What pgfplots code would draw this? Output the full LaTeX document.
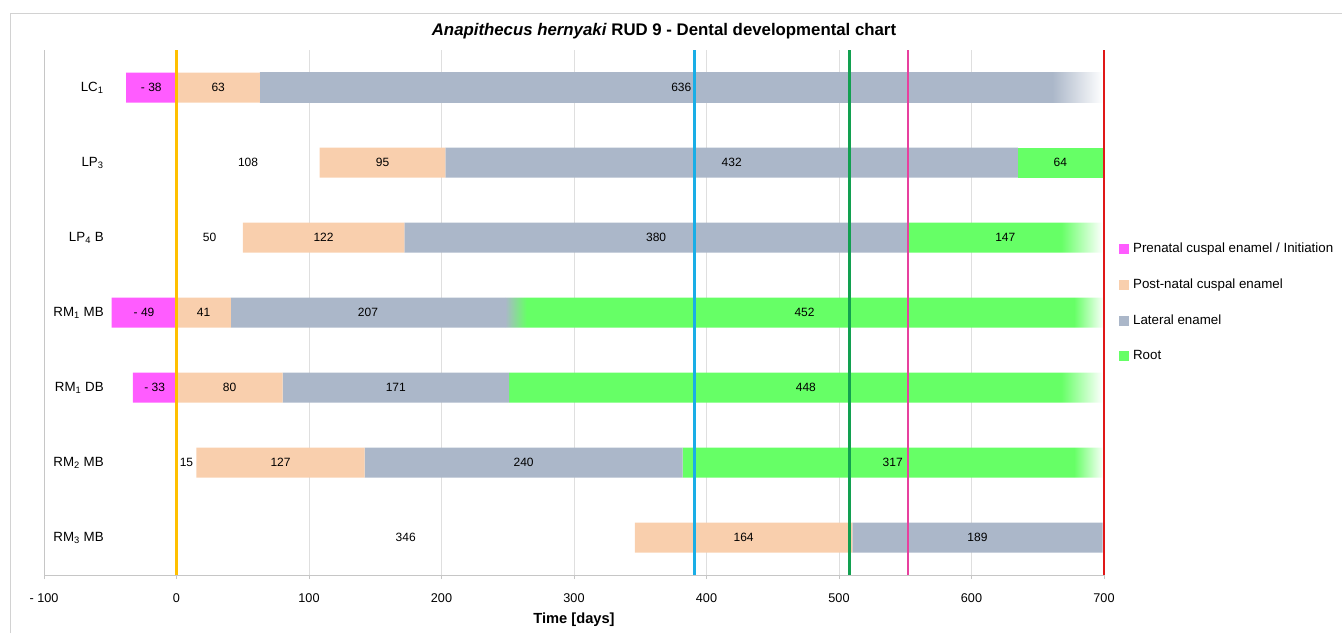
\documentclass[border=0pt]{standalone}
\usepackage{fontspec}
\setmainfont{Liberation Sans}
\usepackage{pgfplots}
\pgfplotsset{compat=1.18}

\definecolor{prenat}{HTML}{FF5CFF}
\definecolor{postnat}{HTML}{F9CFAD}
\definecolor{lateral}{HTML}{ABB7C9}
\definecolor{root}{HTML}{66FF66}
\definecolor{lgold}{HTML}{FFC000}
\definecolor{lblue}{HTML}{1AAEE6}
\definecolor{lgreen}{HTML}{12A050}
\definecolor{lpink}{HTML}{E8409F}
\definecolor{lred}{HTML}{E01818}

% fading ends of the bars (path spans 25bp..75bp)
\pgfdeclarehorizontalshading{latfade}{100bp}{color(0bp)=(lateral); color(72bp)=(lateral); color(75bp)=(white); color(100bp)=(white)}
\pgfdeclarehorizontalshading{rootfade}{100bp}{color(0bp)=(root); color(71.5bp)=(root); color(75bp)=(white); color(100bp)=(white)}
\pgfdeclarehorizontalshading{rootblend}{100bp}{color(0bp)=(lateral); color(25bp)=(lateral); color(26.8bp)=(root); color(72.5bp)=(root); color(75bp)=(white); color(100bp)=(white)}

\pgfplotsset{
  commonaxis/.style={
    at={(33pt,43.5pt)}, anchor=south west,
    scale only axis, width=795pt, height=393.75pt,
    xmin=-100, xmax=700, ymin=0.5, ymax=7.5, y dir=reverse,
  },
  sq/.style={legend image code/.code={\fill[##1] (0pt,-3.75pt) rectangle (7.5pt,3.75pt);}},
}

\begin{document}
\begin{tikzpicture}
\path[use as bounding box] (0,0) rectangle (1006.5pt,474.75pt);
\draw[gray!35, line width=0.75pt] (7.5pt,0) -- (7.5pt,464.25pt) -- (1006.5pt,464.25pt);
\node[font=\fontsize{12.6}{14}\selectfont\bfseries] at (498pt,451.5pt)
  {\textit{Anapithecus hernyaki} RUD 9 - Dental developmental chart};

% bars
\begin{axis}[
  commonaxis, name=plot,
  xbar stacked, stack negative=on previous, bar width=22.5pt,
  xtick={-100,0,...,700},
  xticklabels={- 100,0,100,200,300,400,500,600,700},
  ytick={1,...,7},
  yticklabels={LC\textsubscript{1}, LP\textsubscript{3}, LP\textsubscript{4} B,
    RM\textsubscript{1} MB, RM\textsubscript{1} DB, RM\textsubscript{2} MB, RM\textsubscript{3} MB},
  axis x line*=bottom, axis y line*=left,
  axis line style={gray!45, line width=0.75pt},
  xmajorgrids, grid style={gray!25, line width=0.75pt},
  xtick style={gray!45, line width=0.75pt}, tick align=outside, major tick length=3pt,
  ytick style={draw=none},
  xticklabel style={font=\fontsize{9.5}{11}\selectfont, yshift=-7.5pt},
  yticklabel style={font=\fontsize{10}{12}\selectfont, anchor=east, inner sep=0pt, xshift=48pt},
  xlabel={Time [days]},
  xlabel style={font=\fontsize{11}{13}\selectfont\bfseries, at={(rel axis cs:0.5,0)}, anchor=center, yshift=-33.75pt},
  legend cell align=left,
  legend style={at={(1.014,0.636)}, anchor=north west, draw=none, fill=none, inner sep=0pt,
    font=\fontsize{10}{12}\selectfont, row sep=14.75pt,
    /tikz/every odd column/.append style={column sep=1.5pt},
    nodes={text height=7.2pt, text depth=1.8pt, inner sep=1.5pt}},
]
% invisible offset (start of each row)
\addplot[draw=none, fill=none, forget plot] coordinates {
  (-38,1) (108,2) (50,3) (-49,4) (-33,5) (15,6) (346,7)};
\addplot[draw=none, fill=prenat, sq] coordinates {
  (38,1) (0,2) (0,3) (49,4) (33,5) (0,6) (0,7)};
\addplot[draw=none, fill=postnat, sq] coordinates {
  (63,1) (95,2) (122,3) (41,4) (80,5) (127,6) (164,7)};
\addplot[draw=none, fill=lateral, sq] coordinates {
  (0,1) (432,2) (380,3) (207,4) (171,5) (240,6) (189,7)};
\addplot[draw=none, shading=latfade, forget plot] coordinates {
  (636,1) (0,2) (0,3) (0,4) (0,5) (0,6) (0,7)};
\addplot[draw=none, fill=root, sq] coordinates {
  (0,1) (64,2) (0,3) (0,4) (0,5) (0,6) (0,7)};
\addplot[draw=none, shading=rootfade, forget plot] coordinates {
  (0,1) (0,2) (147,3) (0,4) (448,5) (0,6) (0,7)};
\addplot[draw=none, shading=rootblend, forget plot] coordinates {
  (0,1) (0,2) (0,3) (452,4) (0,5) (317,6) (0,7)};
\legend{Prenatal cuspal enamel / Initiation, Post-natal cuspal enamel, Lateral enamel, Root}
\end{axis}

% reference lines and segment labels
\begin{axis}[commonaxis, hide axis, clip=false]
\addplot[lgold, line width=2pt] coordinates {(0,0.5) (0,7.5)};
\addplot[lblue, line width=2pt] coordinates {(391,0.5) (391,7.5)};
\addplot[lgreen, line width=2pt] coordinates {(508,0.5) (508,7.5)};
\addplot[lpink, line width=2pt] coordinates {(552,0.5) (552,7.5)};
\addplot[lred, line width=2pt] coordinates {(700,0.5) (700,7.5)};
\addplot[draw=none, mark=none,
  nodes near coords, point meta=explicit symbolic,
  every node near coord/.append style={anchor=center, text=black, font=\fontsize{9}{10}\selectfont}]
  table[col sep=comma, meta=lab] {
x,y,lab
-19,1,- 38
31.5,1,63
381,1,636
54,2,108
155.5,2,95
419,2,432
667,2,64
25,3,50
111,3,122
362,3,380
625.5,3,147
-24.5,4,- 49
20.5,4,41
144.5,4,207
474,4,452
-16.5,5,- 33
40,5,80
165.5,5,171
475,5,448
7.5,6,15
78.5,6,127
262,6,240
540.5,6,317
173,7,346
428,7,164
604.5,7,189
};
\end{axis}
\end{tikzpicture}
\end{document}
